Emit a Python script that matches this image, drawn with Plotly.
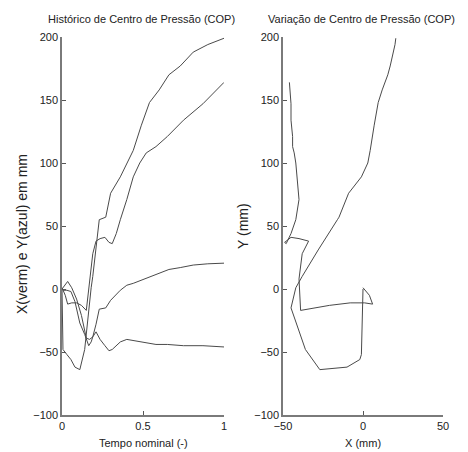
import plotly.graph_objects as go

# Trial 1 (X = "verm", Y = "azul")
t1 = [0, 0.02, 0.035, 0.06, 0.09, 0.12, 0.15, 0.17, 0.19, 0.21, 0.235, 0.265, 0.29, 0.31,
      0.335, 0.36, 0.40, 0.44, 0.48, 0.52, 0.58, 0.65, 0.75, 0.87, 1.0]
x1 = [0, 4, 6, 1, -8, -21, -39, -40, -38, -34, -40, -45, -49, -48,
      -45, -42, -40, -41, -42, -43, -44, -44, -45, -45, -46]
y1 = [1, -5, -12, -11, -11, -13, -17, 8, 28, 38, 40, 41, 37, 36,
      44, 55, 71, 89, 100, 108, 113, 121, 134, 147, 164]

# Trial 2
t2 = [0, 0.006, 0.03, 0.055, 0.08, 0.11, 0.14, 0.165, 0.18, 0.19, 0.21, 0.23, 0.27, 0.30,
      0.36, 0.40, 0.44, 0.49, 0.54, 0.60, 0.66, 0.73, 0.81, 0.90, 1.0]
x2 = [0, -1, -1, -2, -10, -27, -36, -45, -42, -38, -28, -16, -15, -9,
      -1, 3, 4.5, 7, 9.5, 12, 15.5, 17, 19, 20, 20.5]
y2 = [0, -48, -52, -56, -62, -64, -48, -15, 1, 10, 31, 55, 57, 76,
      89, 100, 110, 130, 148, 158, 170, 177, 188, 194, 199]

y_ticks = [-100, -50, 0, 50, 100, 150, 200]
x1_ticks = [0, 0.5, 1]
x1_ticklabels = ["0", "0.5", "1"]
x2_ticks = [-50, 0, 50]

title_left = "Histórico de Centro de Pressão (COP)"
title_right = "Variação de Centro de Pressão (COP)"
ylabel_left = "X(verm) e Y(azul) em mm"
xlabel_left = "Tempo nominal (-)"
ylabel_right = "Y (mm)"
xlabel_right = "X (mm)"

LINE = dict(color="#4a4a4a", width=1)
FONT = "Liberation Sans, Arial, sans-serif"

fig = go.Figure()
for xs, ys in [(t1, x1), (t1, y1), (t2, x2), (t2, y2)]:
    fig.add_trace(go.Scatter(x=xs, y=ys, mode="lines", line=LINE,
                             xaxis="x", yaxis="y", showlegend=False))
for xs, ys in [(x1, y1), (x2, y2)]:
    fig.add_trace(go.Scatter(x=xs, y=ys, mode="lines", line=LINE,
                             xaxis="x2", yaxis="y2", showlegend=False))

# page has an 8px body margin; work in page pixels and convert
OFF = 8
W, H = 468 - OFF, 452 - OFF
L, T = 62 - OFF, 37 - OFF
R, B = 468 - 443, 452 - 415
pw, ph = W - L - R, H - T - B


def px(xp):
    return (xp - OFF - L) / pw


def py(yp):
    return (H - B - (yp - OFF)) / ph


axis_common = dict(showgrid=False, zeroline=False, showline=True, linecolor="#7a7a7a",
                   linewidth=1.5, ticks="inside", ticklen=4, tickcolor="#555",
                   tickfont=dict(family=FONT, size=11, color="#222"), mirror=False)

fig.update_layout(
    width=W, height=H,
    margin=dict(l=L, r=R, t=T, b=B),
    paper_bgcolor="white", plot_bgcolor="white",
    xaxis=dict(domain=[0, px(224)], range=[0, 1], tickvals=x1_ticks,
               ticktext=x1_ticklabels, anchor="y", **axis_common),
    yaxis=dict(domain=[0, 1], range=[-100, 200], tickvals=y_ticks, anchor="x",
               **axis_common),
    xaxis2=dict(domain=[px(283), 1], range=[-50, 50], tickvals=x2_ticks, anchor="y2",
                **axis_common),
    yaxis2=dict(domain=[0, 1], range=[-100, 200], tickvals=y_ticks, anchor="x2",
                **axis_common),
)

ann = [
    dict(text=title_left, x=px(141), y=py(19), size=11, angle=0),
    dict(text=title_right, x=px(361), y=py(19), size=11, angle=0),
    dict(text=xlabel_left, x=px(143), y=py(443), size=11, angle=0),
    dict(text=xlabel_right, x=px(363), y=py(443), size=11, angle=0),
    dict(text=ylabel_left, x=px(22), y=py(234), size=14, angle=-90),
    dict(text=ylabel_right, x=px(243), y=py(226), size=14, angle=-90),
]
for a in ann:
    fig.add_annotation(text=a["text"], x=a["x"], y=a["y"], xref="paper", yref="paper",
                       showarrow=False, textangle=a["angle"], xanchor="center",
                       yanchor="middle",
                       font=dict(family=FONT, size=a["size"], color="#222"))

fig.write_html("out.html")
